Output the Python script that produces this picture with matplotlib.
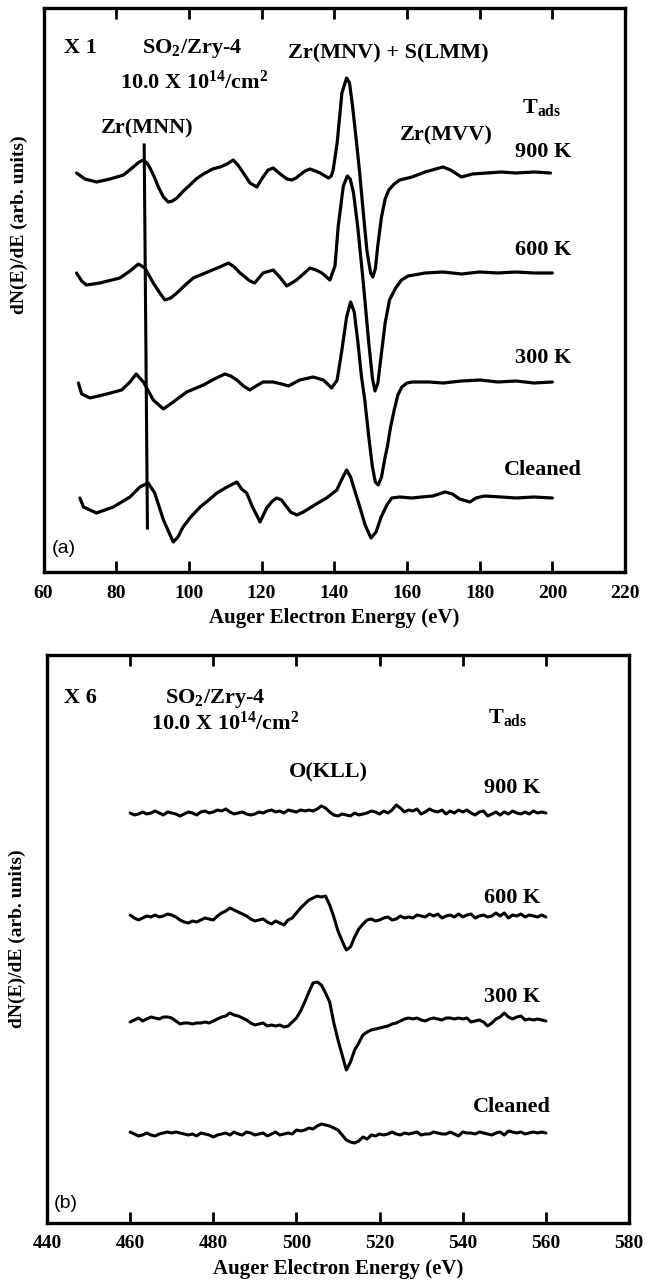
import matplotlib
matplotlib.use('Agg')

import matplotlib.pyplot as plt
import numpy as np

plt.rcParams['font.family'] = ['Liberation Serif', 'DejaVu Serif']
plt.rcParams['font.weight'] = 'bold'
plt.rcParams['axes.labelweight'] = 'bold'
plt.rcParams['mathtext.fontset'] = 'custom'
plt.rcParams['mathtext.rm'] = 'Liberation Serif:bold'
plt.rcParams['mathtext.it'] = 'Liberation Serif:bold'
plt.rcParams['mathtext.bf'] = 'Liberation Serif:bold'

# ---- panel (a): Zr(MNN), Zr(MNV)+S(LMM), Zr(MVV) region ----
labels_a = ['900 K', '600 K', '300 K', 'Cleaned']
offsets_a = [399, 299, 190, 75]

e_900 = [69.1, 71.4, 74.6, 78.3, 82, 84.7, 86.3, 87.5, 88.5, 89.3, 90.5, 91.6, 93, 94.3,
         95.5, 96.7, 98.5, 100.3, 102, 104, 106.5, 108.6, 110.5, 112.2, 113.5, 115,
         116.8, 118.7, 120.4, 121.8, 123.2, 124.5, 125.5, 127, 128.3, 129.5, 130.5,
         132, 133.3, 134.8, 136.1, 137.5, 138.4, 139.2, 139.7, 140.8, 142.1, 143.4,
         144.2, 145, 146, 147, 148, 149, 150, 150.6, 151.3, 152, 153, 154, 155, 156.5,
         158, 161.4, 165, 169.9, 172, 175, 178, 181.9, 186, 190, 195, 199.5]
s_900 = [0, -6, -9, -6, -2, 6, 11, 13, 10, 5, -4, -14, -24, -29,
         -28, -25, -18, -12, -6, -1, 4, 6, 9, 13, 8, 0,
         -10, -14, -4, 3, 5, 1, -2, -6, -7, -5, -2,
         2, 4, 2, 0, -3, -5, -3, 3, 30, 80, 95,
         90, 68, 35, 0, -40, -78, -100, -104, -96, -72, -44, -26, -17, -11,
         -7, -4, 1, 6, 3, -4, -1, 0, 1, 0, 1, 0]

e_600 = [69.1, 70.5, 71.8, 75.5, 81, 83.8, 86.1, 87.9, 90.2, 92, 93.4, 95, 96.7, 99,
         101.2, 105.8, 108.5, 110.9, 112.5, 114.1, 116.8, 118.1, 120.4, 123.2, 125,
         126.9, 128.3, 129.6, 131.5, 133.3, 135, 136.6, 138.8, 140.2, 141.1, 142.5,
         143.6, 144.4, 145.3, 146.5, 148, 149.5, 150.5, 151.2, 152, 153, 154, 155.2,
         156.9, 158.5, 160.3, 165, 170, 175, 180, 185, 190, 195, 200]
s_600 = [0, -8, -12, -10, -5, 2, 9, 5, -10, -20, -27, -25, -20, -12,
         -5, 2, 6, 10, 6, 0, -8, -10, 0, 3, -4,
         -13, -10, -7, -1, 5, 3, 0, -7, 7, 47, 87,
         97, 94, 80, 45, -10, -70, -105, -118, -110, -80, -50, -27,
         -15, -7, -3, 0, 1, -1, 1, 0, 1, 0, 0]

e_300 = [69.6, 70.5, 72.8, 77.4, 81.5, 83.8, 85.5, 87.5, 90.2, 93, 95.7, 99.4, 104,
         107, 109.9, 111.5, 113.2, 115, 116.8, 118.5, 120.4, 123.2, 125.5, 127.4,
         130.5, 134.2, 137, 139.3, 140.8, 142.1, 143.4, 144.5, 145.5, 146.5, 147.5,
         148.4, 149.5, 150.5, 151.3, 152.1, 153, 154, 154.6, 155.5, 156.5, 157.5,
         158.6, 160, 161.4, 166, 170, 175, 180.2, 185, 190, 195, 200]
s_300 = [-1, -12, -16, -12, -8, 0, 8, 0, -18, -27, -20, -10, -3,
         3, 8, 6, 2, -4, -8, -4, 0, 0, -2, -4,
         2, 5, 2, -6, 2, 32, 65, 80, 70, 40, 5,
         -18, -55, -85, -100, -103, -95, -75, -65, -45, -28, -13,
         -5, -1, 0, 0, -1, 1, 2, 0, 1, -1, 0]

e_cln = [70, 71, 74.6, 79.2, 83.8, 86.5, 88.8, 90.6, 93, 95.7, 97, 98.4, 100.5, 103.1,
         105.5, 107.7, 110.5, 113.2, 114.5, 115.9, 117.5, 119.6, 121.4, 123, 124.2,
         125.5, 126.5, 128, 129.7, 131.5, 133.3, 135.5, 137.9, 140.7, 142, 143.4,
         144.5, 145.5, 146.7, 148.5, 150.1, 151.5, 152.9, 154.5, 155.8, 158, 161.4,
         164, 167.1, 170.5, 172.5, 174.5, 177.3, 179, 181.3, 186, 190, 195, 200]
s_cln = [-1, -10, -16, -10, 0, 10, 14, 4, -23, -45, -40, -30, -20, -10,
         -3, 4, 10, 15, 8, 4, -10, -25, -11, -4, -1,
         -3, -8, -15, -18, -15, -11, -6, -1, 7, 17, 27,
         20, 8, -6, -28, -41, -35, -20, -8, -1, 0, -1,
         0, 1, 5, 3, -2, -5, -1, 1, 0, -1, 0, -1]

energies_a = [e_900, e_600, e_300, e_cln]
signals_a = [s_900, s_600, s_300, s_cln]

# Zr(MNN) marker line
mnn_x = [87.7, 88.6]
mnn_y = [427, 44]

# ---- panel (b): O(KLL) region, 1 eV steps from 460 to 560 ----
labels_b = ['900 K', '600 K', '300 K', 'Cleaned']
offsets_b = [410, 306, 203, 90]
e_b = np.arange(460, 561, 1)
s_b_900 = [0, -2, -1, 1, -1, 0, 2, 0, -2, 1,
           0, -1, -3, -1, 1, 0, -2, 1, 2, 0,
           1, 3, 2, 4, 1, -1, 0, 1, -1, -2,
           -1, 1, 0, 2, 3, 1, 2, 0, 3, 2,
           1, 3, 2, 3, 2, 4, 7, 5, 1, -2,
           -3, -1, -2, -3, 0, -2, -1, 0, 2, 1,
           -1, 2, 0, 3, 8, 5, 1, 3, 2, 4,
           -1, 1, 4, 2, 1, 3, -1, 2, 0, 3,
           1, 3, 0, -2, 1, 2, -3, -1, 1, -2,
           1, -1, 2, 0, -1, 1, -1, 2, 0, 1,
           0]
s_b_600 = [2, -1, -3, -1, 1, 0, 2, 0, 1, 3,
           2, 0, -3, -5, -6, -4, -5, -3, -1, -2,
           -3, 1, 4, 6, 9, 7, 5, 3, 1, -2,
           -4, -3, -2, -5, -7, -4, -6, -8, -3, -1,
           4, 9, 13, 17, 19, 21, 20, 21, 12, 0,
           -14, -24, -33, -30, -20, -12, -7, -3, -2, -4,
           -3, -1, 0, -3, -2, 1, -1, 0, -1, 2,
           1, 0, 3, 1, 3, -1, 1, 2, 0, 3,
           0, 2, 3, -1, 1, 2, 0, 1, 4, 1,
           4, -1, 2, 1, 3, 0, 2, 1, 0, 2,
           0]
s_b_300 = [-2, 0, 2, -1, 1, 3, 2, 1, 3, 3,
           2, -1, -4, -3, -3, -4, -3, -3, -2, -3,
           -1, 1, 3, 4, 7, 5, 4, 2, 0, -3,
           -5, -4, -3, -6, -5, -6, -5, -7, -6, -2,
           2, 9, 18, 28, 37, 38, 35, 27, 18, -3,
           -20, -35, -50, -42, -30, -23, -15, -12, -10, -9,
           -8, -7, -6, -4, -3, -1, 1, 2, 1, 2,
           0, -1, 1, 2, 1, 0, 2, 2, 1, 2,
           1, 2, -2, -1, 0, -2, -6, -3, 1, 3,
           7, 3, 1, 3, 4, 0, 1, 0, 1, 0,
           -1]
s_b_cln = [1, -1, -3, -2, 0, -2, -3, -1, 0, 1,
           0, 1, 0, -1, -2, -1, -3, 0, -1, -2,
           -4, -2, -1, 0, -2, 1, -1, -2, 1, 0,
           -2, -1, 0, -3, -1, 1, -2, -1, 0, -1,
           3, 2, 3, 5, 4, 7, 9, 8, 7, 5,
           3, -2, -7, -9, -10, -8, -4, -6, -2, -3,
           -1, -2, -1, 1, -1, -2, 0, -1, 0, 1,
           -2, -1, -1, 1, 0, -1, -1, 1, -1, -3,
           1, 0, 0, -1, 1, 0, -1, -2, 0, 1,
           -2, 2, 1, 0, 1, -1, 0, 1, 0, 1,
           0]
signals_b = [s_b_900, s_b_600, s_b_300, s_b_cln]

W, H = 647, 1281
fig = plt.figure(figsize=(W / 100, H / 100), dpi=100)
ax_a = fig.add_axes([43.5 / W, 1 - 572 / H, 581.5 / W, 564 / H])
ax_b = fig.add_axes([47 / W, 1 - 1223 / H, 582 / W, 568 / H])

lw = 2.3
for e, s, off in zip(energies_a, signals_a, offsets_a):
    ax_a.plot(e, np.array(s) + off, color='black', lw=lw,
              solid_capstyle='round', solid_joinstyle='round')
ax_a.plot(mnn_x, mnn_y, color='black', lw=2.2)

for s, off in zip(signals_b, offsets_b):
    ax_b.plot(e_b, np.array(s) + off, color='black', lw=2.2,
              solid_capstyle='round', solid_joinstyle='round')

ax_a.set_xlim(60, 220)
ax_a.set_ylim(0, 564)
ax_b.set_xlim(440, 580)
ax_b.set_ylim(0, 568)
ax_a.set_xticks(np.arange(60, 221, 20))
ax_b.set_xticks(np.arange(440, 581, 20))

for ax in (ax_a, ax_b):
    ax.set_yticks([])
    ax.tick_params(axis='x', direction='in', top=True, length=8, width=2,
                   pad=9, labelsize=14)
    for sp in ax.spines.values():
        sp.set_linewidth(2.4)
    ax.set_xlabel('Auger Electron Energy (eV)', fontsize=15, labelpad=5)
    ax.set_ylabel('dN(E)/dE (arb. units)', fontsize=14)

# ylabel anchor is the right edge of the rotated text
ax_a.yaxis.set_label_coords(-0.027, 0.615)
ax_b.yaxis.set_label_coords(-0.036, 0.5)

fs = 16
# panel (a) annotations
ax_a.text(70.2, 524, 'X 1', fontsize=fs, ha='center', va='center')
ax_a.text(100.9, 524, r'SO$_2$/Zry-4', fontsize=fs, ha='center', va='center')
ax_a.text(101.4, 490, r'10.0 X 10$^{14}$/cm$^2$', fontsize=fs, ha='center', va='center')
ax_a.text(154.9, 519, 'Zr(MNV) + S(LMM)', fontsize=fs, ha='center', va='center')
ax_a.text(196.9, 464, r'T$_{\mathrm{ads}}$', fontsize=fs, ha='center', va='center')
ax_a.text(88.4, 444, 'Zr(MNN)', fontsize=fs, ha='center', va='center')
ax_a.text(170.8, 437, 'Zr(MVV)', fontsize=fs, ha='center', va='center')
for lab, yy in zip(labels_a, [420, 322, 214, 102]):
    ax_a.text(197.5, yy, lab, fontsize=fs, ha='center', va='center')
ax_a.text(65.6, 24, '(a)', fontsize=14, ha='center', va='center',
          family='Liberation Sans', weight='normal')

# panel (b) annotations
ax_b.text(448.1, 525, 'X 6', fontsize=fs, ha='center', va='center')
ax_b.text(480.4, 525, r'SO$_2$/Zry-4', fontsize=fs, ha='center', va='center')
ax_b.text(482.8, 500, r'10.0 X 10$^{14}$/cm$^2$', fontsize=fs, ha='center', va='center')
ax_b.text(550.9, 506, r'T$_{\mathrm{ads}}$', fontsize=fs, ha='center', va='center')
ax_b.text(507.7, 451, 'O(KLL)', fontsize=fs, ha='center', va='center')
for lab, yy in zip(labels_b, [435, 325, 226, 116]):
    ax_b.text(551.8, yy, lab, fontsize=fs, ha='center', va='center')
ax_b.text(444.6, 19, '(b)', fontsize=14, ha='center', va='center',
          family='Liberation Sans', weight='normal')

fig.savefig('out.png', dpi=100)
